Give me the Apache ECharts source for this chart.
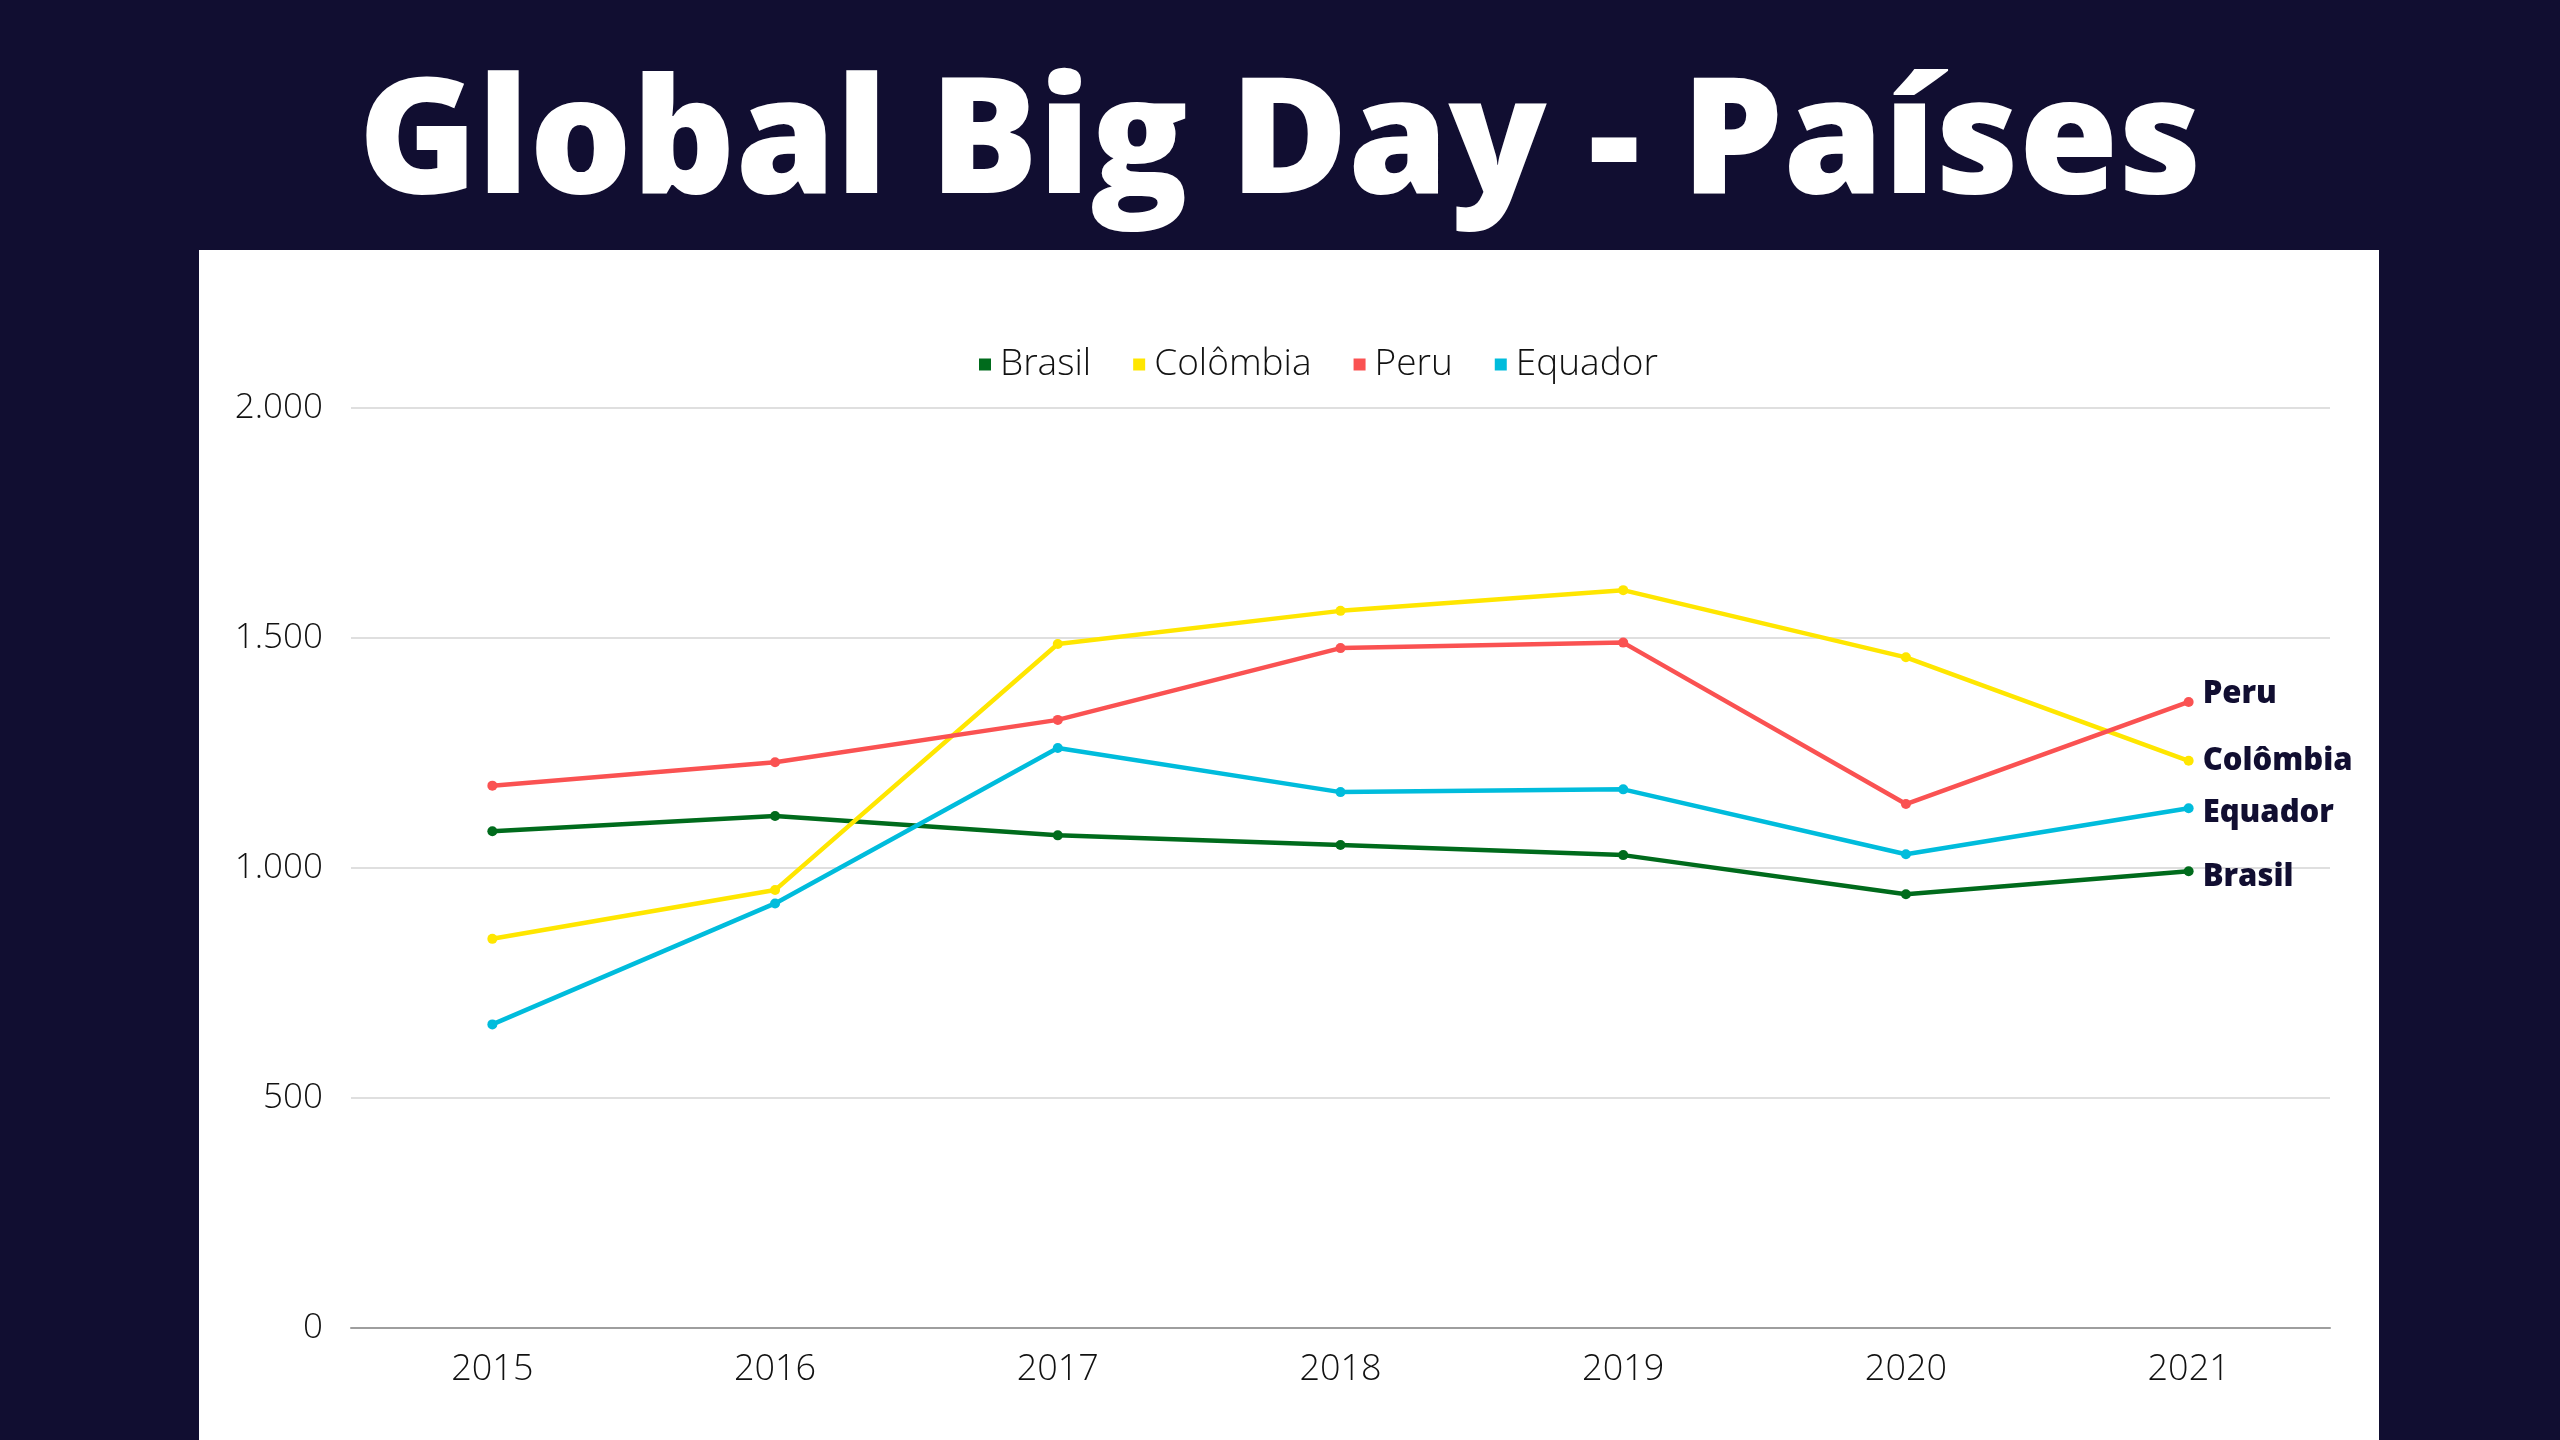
<!DOCTYPE html>
<html>
<head>
<meta charset="utf-8">
<title>Global Big Day - Países</title>
<script src="https://cdn.jsdelivr.net/npm/echarts@6/dist/echarts.min.js"></script>
<style>
  html, body { margin: 0; padding: 0; background: #110e31; }
  #chart { width: 2560px; height: 1440px; }
</style>
</head>
<body>
<div id="chart"></div>
<script>
// anos
const years = ["2015", "2016", "2017", "2018", "2019", "2020", "2021"];

// valores
const brasil = [1080, 1113, 1071, 1050, 1028, 943, 993];
const colombia = [846, 952, 1487, 1559, 1604, 1458, 1233];
const peru = [1179, 1230, 1322, 1478, 1490, 1139, 1361];
const equador = [660, 923, 1261, 1165, 1171, 1030, 1130];

const yTicks = [0, 500, 1000, 1500, 2000];

const navy = "#110e31";

function serie(name, data, color, dy) {
  return {
    name: name,
    type: "line",
    data: data,
    color: color,
    symbol: "circle",
    symbolSize: 10,
    lineStyle: { width: 4.5, color: color },
    itemStyle: { color: color },
    endLabel: {
      show: true,
      formatter: name,
      distance: 14,
      offset: [0, dy],
      color: navy,
      fontFamily: "Open Sans",
      fontWeight: 800,
      fontSize: 31
    }
  };
}

let chart = echarts.init(document.getElementById("chart"));
chart.setOption({
  backgroundColor: navy,
  animation: false,
  textStyle: { fontFamily: "Open Sans" },
  graphic: [
    {
      type: "rect",
      z: -10,
      shape: { x: 199, y: 250, width: 2180, height: 1200 },
      style: { fill: "#ffffff" }
    }
  ],
  title: {
    text: "Global Big Day - Países",
    left: "center",
    top: 62,
    textStyle: {
      color: "#ffffff",
      fontFamily: "Open Sans",
      fontWeight: 800,
      fontSize: 161
    }
  },
  legend: {
    data: ["Brasil", "Colômbia", "Peru", "Equador"],
    left: 974,
    top: 341,
    icon: "rect",
    itemWidth: 12,
    itemHeight: 12,
    itemGap: 42,
    textStyle: {
      fontFamily: "Open Sans",
      fontWeight: 300,
      fontSize: 37,
      color: "#111111",
      padding: [0, 0, 0, 4]
    }
  },
  grid: { left: 351, right: 230, top: 408, bottom: 112 },
  xAxis: {
    type: "category",
    data: years,
    boundaryGap: true,
    axisTick: { show: false },
    axisLine: { lineStyle: { color: "#9e9e9e", width: 2 } },
    axisLabel: {
      margin: 24,
      fontFamily: "Open Sans",
      fontWeight: 300,
      fontSize: 36,
      color: "#111111"
    }
  },
  yAxis: {
    type: "value",
    min: yTicks[0],
    max: yTicks[yTicks.length - 1],
    interval: 500,
    axisLine: { show: false },
    axisTick: { show: false },
    splitLine: { lineStyle: { color: "#d4d4d4", width: 1.5 } },
    axisLabel: {
      margin: 28,
      fontFamily: "Open Sans",
      fontWeight: 300,
      fontSize: 35,
      color: "#111111",
      formatter: v => v.toLocaleString("pt-BR")
    }
  },
  series: [
    serie("Brasil", brasil, "#006b1c", 6),
    serie("Colômbia", colombia, "#ffe600", 0),
    serie("Peru", peru, "#fa5252", -8),
    serie("Equador", equador, "#00bcdc", 5)
  ]
});
</script>
</body>
</html>
